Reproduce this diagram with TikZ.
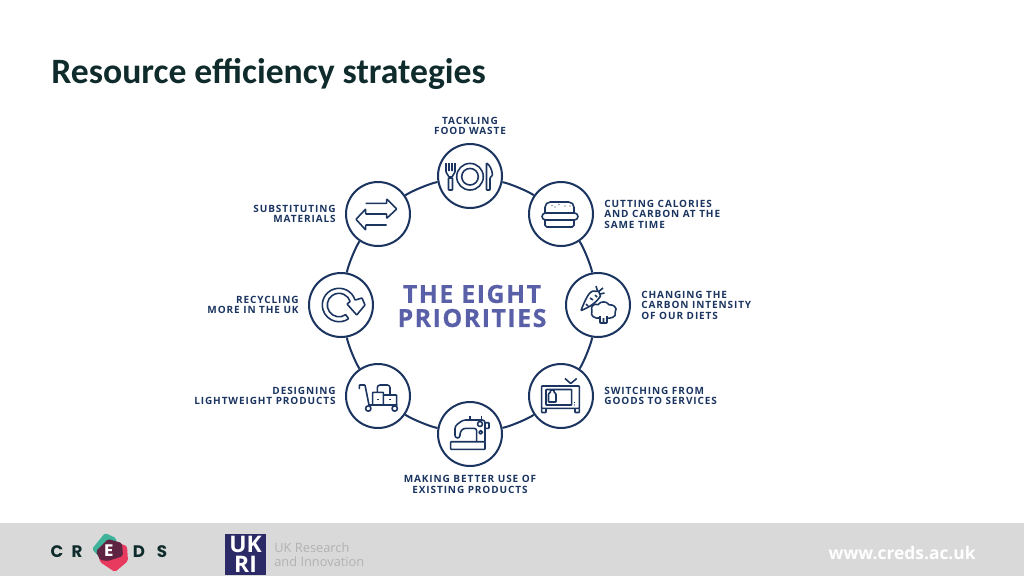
\documentclass[tikz,border=0pt]{standalone}
\usepackage{fontspec}
\setmainfont{Open Sans}
\newfontfamily\titlefont{Carlito}
\newfontfamily\logofont{Poppins}
\newfontfamily\labelfont[LetterSpace=9]{Open Sans}
\newfontfamily\headfont[LetterSpace=6,BoldFeatures={FakeBold=0.5}]{Open Sans}
\usetikzlibrary{positioning}
\definecolor{navy}{HTML}{1B3560}
\definecolor{eight}{HTML}{5A60A8}
\definecolor{band}{HTML}{D9D9D9}
\definecolor{ink}{HTML}{0F2B2B}
\definecolor{logogreen}{HTML}{3FB39A}
\definecolor{logopink}{HTML}{E8395F}
\definecolor{logodark}{HTML}{5E2442}
\definecolor{ukriblue}{HTML}{2B2A66}

\begin{document}
\begin{tikzpicture}[x=0.02cm,y=-0.02cm,node distance=0.2cm,line join=round,
    priority/.style={circle,draw=navy,line width=1.15pt,minimum size=1.28cm,inner sep=0pt},
    caption/.style={inner sep=0pt,text=navy,font=\labelfont\bfseries\fontsize{5.7}{5.95}\selectfont},
    link/.style={draw=navy,line width=1.15pt,bend left=12,looseness=0.55},
    icon/.style={draw=navy,line width=0.9pt,rounded corners=0.3pt},
    logotext/.style={inner sep=0pt,text=ink,font=\logofont\bfseries\fontsize{9.5}{10}\selectfont}]
  \useasboundingbox (0,0) rectangle (1024,576);
  \fill[band] (0,523) rectangle (1024,576);
  \node[anchor=west,inner sep=0pt,text=ink,font=\titlefont\bfseries\fontsize{20.3}{22}\selectfont] (title) at (51,74) {Resource efficiency strategies};

  \node[priority] (p_0) at (470,176) {};
  \node[priority] (p_1) at (561,214) {};
  \node[priority] (p_2) at (598,305) {};
  \node[priority] (p_3) at (561,396) {};
  \node[priority] (p_4) at (470,434) {};
  \node[priority] (p_5) at (378,396) {};
  \node[priority] (p_6) at (341,305) {};
  \node[priority] (p_7) at (378,214) {};
  \path[link]
  (p_7) edge (p_0)
  (p_0) edge (p_1)
  (p_1) edge (p_2)
  (p_2) edge (p_3)
  (p_3) edge (p_4)
  (p_4) edge (p_5)
  (p_5) edge (p_6)
  (p_6) edge (p_7);

  \node[caption,align=center,above=0.16cm of p_0] (c_0) {TACKLING\\FOOD WASTE};
  \node[caption,align=left,right=of p_1] (c_1) {CUTTING CALORIES\\AND CARBON AT THE\\SAME TIME};
  \node[caption,align=left,right=of p_2] (c_2) {CHANGING THE\\CARBON INTENSITY\\OF OUR DIETS};
  \node[caption,align=left,right=of p_3] (c_3) {SWITCHING FROM\\GOODS TO SERVICES};
  \node[caption,align=center,below=0.16cm of p_4] (c_4) {MAKING BETTER USE OF\\EXISTING PRODUCTS};
  \node[caption,align=right,left=0.18cm of p_5] (c_5) {DESIGNING\\LIGHTWEIGHT PRODUCTS};
  \node[caption,align=right,left=0.18cm of p_6] (c_6) {RECYCLING\\MORE IN THE UK};
  \node[caption,align=right,left=0.18cm of p_7] (c_7) {SUBSTITUTING\\MATERIALS};
  \node[inner sep=0pt,align=center,text=eight,font=\headfont\bfseries\fontsize{14.2}{13.7}\selectfont] (head) at (472,306) {THE EIGHT\\PRIORITIES};

  % plate, fork and knife
  \draw[icon] (470,176.7) circle[radius=13.3] (470,176.7) circle[radius=8.3];
  \draw[icon] (446,163) -- (446,172) -- (449,177) -- (452,177) -- (455,172) -- (455,163) (449,163) -- (449,171) (452,163) -- (452,171);
  \draw[icon] (448.5,178) rectangle (452.5,190);
  \draw[icon] (486.5,163) -- (486.5,190) -- (490,190) -- (490,178) -- (492.5,175) .. controls (492,170) and (490,165) .. (486.5,163);

  % burger
  \draw[icon,rounded corners=3pt] (545,213) -- (545,202) -- (574,202) -- (574,213);
  \draw[icon,rounded corners=2pt] (542,213) rectangle (578,220);
  \draw[icon,rounded corners=1pt] (545,220) -- (545,227) -- (574,227) -- (574,220);
  \fill[navy] (552,205.5) circle[radius=0.7] (559,204.5) circle[radius=0.7] (565,206) circle[radius=0.7] (555,207) circle[radius=0.7] (570,206) circle[radius=0.7];

  % carrot and broccoli
  \draw[icon] (581,310.5) .. controls (585,300) and (589,292) .. (593,291) -- (598.7,291.5) -- (600.5,296) .. controls (596,303) and (588,308) .. (581,310.5);
  \draw[icon] (597.5,291) -- (596,286) (598.7,291.5) -- (603,288) (600,294) -- (604.5,293) (590,298) -- (593,300) (586,304) -- (588,306) (595,295) -- (597,297);
  \draw[icon] (600,318) .. controls (595,319) and (590,316) .. (592,311) .. controls (590,306) and (595,303) .. (598,305) .. controls (600,301) and (607,301) .. (609,305) .. controls (613,304) and (618,308) .. (615,312) .. controls (617,317) and (610,319) .. (606,318);
  \draw[icon] (600,316) -- (600,323) -- (607,323) -- (607,316) (603.5,318) -- (603.5,323);

  % television
  \draw[icon] (541.7,386) rectangle (579.3,408.3);
  \draw[icon] (546,389.5) rectangle (571.7,405);
  \draw[icon] (548.5,394) -- (550.5,392) -- (550.5,390) -- (554,390) -- (554,392) -- (556,394) -- (556,402) -- (548.5,402) -- cycle;
  \draw[icon] (565,378.5) -- (570.7,383.5) -- (576.7,378.5);
  \draw[icon] (541.7,408.3) -- (541.7,412.5) -- (546,412.5) -- (546,408.3) (575,408.3) -- (575,412.5) -- (579.3,412.5) -- (579.3,408.3);
  \fill[navy] (574.5,402.5) circle[radius=0.6] (574.5,405) circle[radius=0.6];

  % sewing machine
  \draw[icon] (450.7,441.7) rectangle (485,449.3);
  \draw[icon,rounded corners=1.5pt] (476.7,441.7) -- (476.7,428.3) -- (463.3,428.3) -- (460,432) -- (460,438) -- (455,438) -- (455,426) -- (463,420) -- (485,420) -- (485,441.7);
  \draw[icon] (485,422.7) rectangle (489,428.3);
  \draw[icon] (480,424) circle[radius=2.5] (480.7,432.3) circle[radius=1.8];
  \draw[icon] (470,416) -- (470,420) (481.7,416) -- (481.7,420);

  % cart and boxes
  \draw[icon] (359.3,389) -- (359.3,385) -- (365,385) -- (369,405) -- (397.3,405);
  \draw[icon] (372.7,392.3) rectangle (383.3,405) (383.3,395) rectangle (396.7,405);
  \draw[icon,rounded corners=1.5pt] (377.3,392.3) -- (377.3,385) -- (390,385) -- (390,395);
  \draw[icon] (368.3,408.5) circle[radius=2.7] (394.7,408.5) circle[radius=2.7];
  \draw[icon] (377,399.5) -- (379,399.5) (389,399.5) -- (391,399.5);

  % recycling loop
  \draw[icon] (339,305) ++(-17:16.7) arc[start angle=-17,end angle=-305,radius=16.7] -- ++(-2.9,-4.1) arc[start angle=55,end angle=343,radius=11.7] -- (347,304) -- (356.7,315) -- (365,305) -- (362,298) -- cycle;

  % arrows
  \draw[icon] (365.7,203.3) -- (386.7,203.3) -- (386.7,199) -- (396.7,209) -- (386.7,218.3) -- (386.7,214) -- (365.7,214);
  \draw[icon] (386.7,225) -- (365.7,225) -- (365.7,230) -- (356,219.3) -- (365.7,209) -- (365.7,214);

  % footer
  \node[logotext] (l_c) at (57,552) {C};
  \node[logotext] (l_r) at (77,552) {R};
  \node[logotext] (l_d) at (139,552) {D};
  \node[logotext] (l_s) at (162,552) {S};
  \fill[logogreen,rounded corners=1pt] (92,549) -- (105,533) -- (116,538) -- (118,550) -- (100,558) -- cycle;
  \fill[logopink,rounded corners=1pt] (100,562) -- (115,572) -- (128,561) -- (127,546) -- (112,541) -- (98,552) -- cycle;
  \fill[logodark,rounded corners=1pt] (96,551) -- (108,539) -- (122,543) -- (123,556) -- (108,561) -- (100,560) -- cycle;
  \node[logotext,text=white] (l_e) at (109,551) {E};
  \fill[ukriblue] (225,534) rectangle (266,575);
  \node[inner sep=0pt,align=center,text=white,font=\bfseries\fontsize{13}{11.5}\selectfont] (ukri) at (245.5,554.5) {UK\\RI};
  \node[anchor=west,inner sep=0pt,align=left,text=gray!60,font=\fontsize{7.3}{8}\selectfont] (council) at (274,555) {UK Research\\and Innovation};
  \node[anchor=east,inner sep=0pt,text=white,font=\bfseries\fontsize{9.9}{10}\selectfont] (web) at (976,553) {www.creds.ac.uk};
\end{tikzpicture}
\end{document}
